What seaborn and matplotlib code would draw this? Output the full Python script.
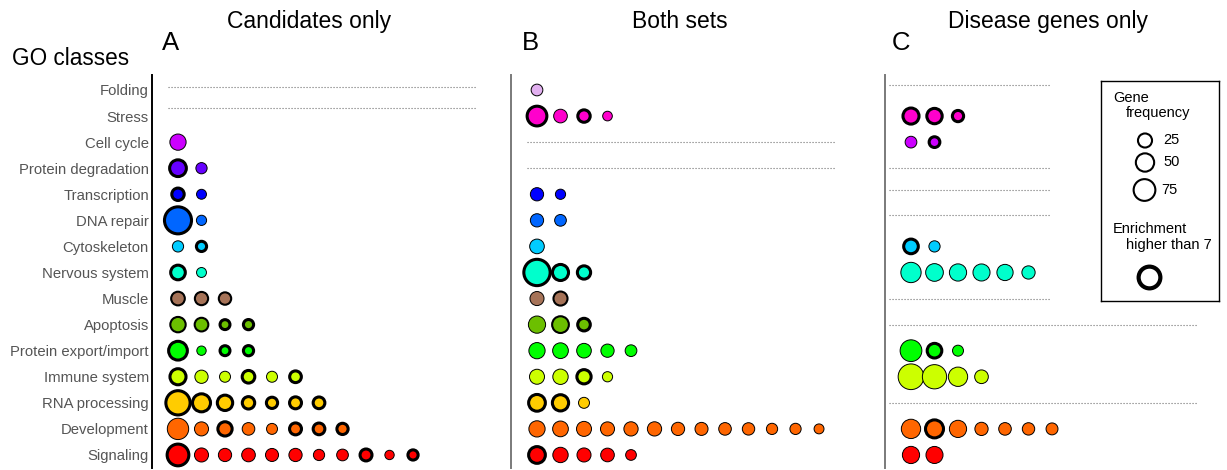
import numpy as np
import pandas as pd
import matplotlib
matplotlib.use("Agg")
import matplotlib.pyplot as plt
import seaborn as sns

# ---------------------------------------------------------------- data
classes = ["Folding", "Stress", "Cell cycle", "Protein degradation", "Transcription",
           "DNA repair", "Cytoskeleton", "Nervous system", "Muscle", "Apoptosis",
           "Protein export/import", "Immune system", "RNA processing", "Development",
           "Signaling"]
class_colors = ["#e2b0f0", "#ff00cc", "#cc00ff", "#6600ff", "#0000ff",
                "#0066ff", "#00ccff", "#00ffcc", "#a67358", "#6cbf00",
                "#00ff00", "#ccff00", "#ffcc00", "#ff6600", "#ff0000"]

# gene frequency of each enriched GO term, per class
cand_freq = {
    "Cell cycle": [37],
    "Protein degradation": [40, 12],
    "Transcription": [17, 7],
    "DNA repair": [122, 8],
    "Cytoskeleton": [12, 8],
    "Nervous system": [28, 7],
    "Muscle": [23, 21, 17],
    "Apoptosis": [32, 23, 7, 8],
    "Protein export/import": [53, 5, 7, 8],
    "Immune system": [36, 21, 11, 18, 11, 14],
    "RNA processing": [96, 48, 32, 17, 12, 15, 14],
    "Development": [72, 25, 26, 18, 11, 15, 14, 12],
    "Signaling": [75, 25, 21, 23, 20, 21, 12, 14, 15, 5, 8],
}
cand_enrich = {
    "Cell cycle": [3],
    "Protein degradation": [9, 3],
    "Transcription": [9, 3],
    "DNA repair": [9, 3],
    "Cytoskeleton": [3, 9],
    "Nervous system": [9, 3],
    "Muscle": [6, 6, 6],
    "Apoptosis": [6, 6, 9, 9],
    "Protein export/import": [9, 3, 9, 9],
    "Immune system": [9, 3, 3, 9, 3, 9],
    "RNA processing": [9, 9, 9, 9, 9, 9, 9],
    "Development": [3, 3, 9, 3, 3, 9, 9, 9],
    "Signaling": [9, 3, 3, 3, 3, 3, 3, 3, 9, 3, 9],
}

both_freq = {
    "Folding": [14],
    "Stress": [60, 23, 17, 6],
    "Transcription": [21, 8],
    "DNA repair": [21, 14],
    "Cytoskeleton": [28],
    "Nervous system": [115, 36, 21],
    "Muscle": [25, 25],
    "Apoptosis": [43, 40, 18],
    "Protein export/import": [37, 34, 28, 21, 14],
    "Immune system": [30, 32, 26, 8],
    "RNA processing": [40, 37, 11],
    "Development": [37, 34, 30, 25, 26, 26, 21, 20, 18, 17, 12, 12, 7],
    "Signaling": [40, 32, 25, 23, 10],
}
both_enrich = {
    "Folding": [3],
    "Stress": [9, 3, 9, 3],
    "Transcription": [3, 3],
    "DNA repair": [3, 3],
    "Cytoskeleton": [3],
    "Nervous system": [9, 9, 9],
    "Muscle": [3, 6],
    "Apoptosis": [3, 6, 9],
    "Protein export/import": [3, 3, 3, 3, 3],
    "Immune system": [3, 3, 9, 3],
    "RNA processing": [9, 9, 3],
    "Development": [3] * 13,
    "Signaling": [9, 3, 3, 3, 3],
}

dis_freq = {
    "Stress": [36, 32, 12],
    "Cell cycle": [14, 10],
    "Cytoskeleton": [28, 12],
    "Nervous system": [64, 46, 43, 42, 37, 21],
    "Protein export/import": [75, 28, 11],
    "Immune system": [109, 96, 57, 23],
    "Development": [57, 48, 43, 21, 18, 17, 15],
    "Signaling": [43, 42],
}
dis_enrich = {
    "Stress": [9, 9, 9],
    "Cell cycle": [3, 9],
    "Cytoskeleton": [9, 3],
    "Nervous system": [3, 3, 3, 3, 3, 3],
    "Protein export/import": [3, 9, 3],
    "Immune system": [3, 3, 3, 3],
    "Development": [3, 9, 3, 3, 3, 3, 3],
    "Signaling": [3, 3],
}

panel_titles = ["Candidates only", "Both sets", "Disease genes only"]
panel_letters = ["A", "B", "C"]
legend_freqs = [25, 50, 75]
enrich_threshold = 7

# ---------------------------------------------------------------- style
sns.set_theme(style="white")
plt.rcParams["font.family"] = ["Liberation Sans", "DejaVu Sans"]

W, H = 1227, 470
fig = plt.figure(figsize=(W / 100, H / 100), dpi=100)


def px_axes(left, top, width, height):
    return fig.add_axes([left / W, 1 - (top + height) / H, width / W, height / H])


def px_text(x, y, s, **kw):
    fig.text(x / W, 1 - y / H, s, **kw)


SIZE_NORM = (0, 130)
SIZES = (0.5184 * 60, 0.5184 * (60 + 5.5 * 130))
palette = dict(zip(classes, class_colors))


def edge_width(e):
    if e > enrich_threshold:
        return 2.2
    if e > 4:
        return 1.5
    return 0.7


def to_frame(freq, enrich):
    recs = []
    for cls, vals in freq.items():
        for j, (f, e) in enumerate(zip(vals, enrich[cls])):
            recs.append({"cls": cls, "row": classes.index(cls), "col": j,
                         "freq": f, "enrich": e})
    return pd.DataFrame(recs)


panels = [to_frame(cand_freq, cand_enrich),
          to_frame(both_freq, both_enrich),
          to_frame(dis_freq, dis_enrich)]
lefts = [152, 511, 885]
spine_colors = ["black", "#7a7a7a", "#7a7a7a"]

# empty classes are marked with a dotted rule: (start, end, vertical nudge)
dot_geom = [
    {"Folding": (-0.43, 12.72, -0.12), "Stress": (-0.43, 12.72, -0.29)},
    {"Cell cycle": (-0.43, 12.68, 0.0), "Protein degradation": (-0.43, 12.68, 0.0)},
    {"Folding": (-0.94, 5.91, -0.2), "Protein degradation": (-0.94, 5.91, 0.0),
     "Transcription": (-0.94, 5.91, -0.15), "DNA repair": (-0.94, 5.91, -0.2),
     "Muscle": (-0.94, 5.91, 0.0), "Apoptosis": (-0.94, 12.17, 0.0),
     "RNA processing": (-0.94, 12.17, 0.0)},
]

for k, (df, left) in enumerate(zip(panels, lefts)):
    ax = px_axes(left, 75, 340, 393)
    for cls in classes:
        if cls not in df["cls"].values:
            x0, x1, dy = dot_geom[k][cls]
            r = classes.index(cls) + dy
            ax.plot([x0, x1], [r, r], color="#707070", lw=0.8,
                    linestyle=(0, (1, 1.7)), zorder=1)
    sns.scatterplot(data=df, x="col", y="row", hue="cls", palette=palette,
                    size="freq", sizes=SIZES, size_norm=SIZE_NORM,
                    edgecolor="black", legend=False, ax=ax, zorder=3)
    ax.collections[-1].set_linewidths([edge_width(e) for e in df["enrich"]])
    ax.set_xlim(-1.106, 13.36)
    ax.set_ylim(14.5, -0.575)
    ax.set_xlabel("")
    ax.set_ylabel("")
    ax.set_xticks([])
    for side in ["top", "right", "bottom"]:
        ax.spines[side].set_visible(False)
    ax.spines["left"].set_color(spine_colors[k])
    ax.spines["left"].set_linewidth(1.4)
    ax.patch.set_alpha(0)
    if k == 0:
        ax.set_yticks(range(len(classes)))
        ax.set_yticklabels(classes, fontsize=10.7, color="#555555")
        ax.tick_params(axis="y", length=0, pad=2.2)
    else:
        ax.set_yticks([])

# panel headings
title_x = [309.5, 680, 1047.5]
letter_x = [162, 522, 892]
for t, tx, l, lx in zip(panel_titles, title_x, panel_letters, letter_x):
    px_text(tx, 28, t, ha="center", va="baseline", fontsize=16.5, color="black")
    px_text(lx, 50, l, ha="left", va="baseline", fontsize=18.5, color="black")
px_text(12, 65, "GO classes", ha="left", va="baseline", fontsize=16.3, color="black")

# legend box
lax = px_axes(1101, 81, 118, 220)
lax.set_xlim(1101, 1219)
lax.set_ylim(301, 81)
lax.set_xticks([])
lax.set_yticks([])
for sp in lax.spines.values():
    sp.set_visible(True)
    sp.set_color("black")
    sp.set_linewidth(1.0)

key_df = pd.DataFrame({"x": [1145, 1145, 1144.5], "y": [140.5, 162.5, 190],
                       "freq": legend_freqs})
sns.scatterplot(data=key_df, x="x", y="y", size="freq", sizes=SIZES,
                size_norm=SIZE_NORM, color="white", edgecolor="black",
                linewidth=1.5, legend=False, ax=lax)
enr_df = pd.DataFrame({"x": [1149], "y": [276.5], "freq": [legend_freqs[-1]]})
sns.scatterplot(data=enr_df, x="x", y="y", size="freq", sizes=SIZES,
                size_norm=SIZE_NORM, color="white", edgecolor="black",
                linewidth=3.0, legend=False, ax=lax)
lax.set_xlabel("")
lax.set_ylabel("")
lax.set_xlim(1101, 1219)
lax.set_ylim(301, 81)

lt = dict(fontsize=10.5, color="black", va="baseline", ha="left")
lax.text(1113, 102, "Gene", **lt)
lax.text(1126, 117, "frequency", **lt)
for f, yy, xx in zip(legend_freqs, key_df["y"], [1163, 1163, 1161.5]):
    lax.text(xx, yy, str(f), fontsize=10.5, color="black", va="center", ha="left")
lax.text(1113, 233, "Enrichment", **lt)
lax.text(1126, 248.5, f"higher than {enrich_threshold}", **lt)

fig.savefig("out.png", dpi=100)
